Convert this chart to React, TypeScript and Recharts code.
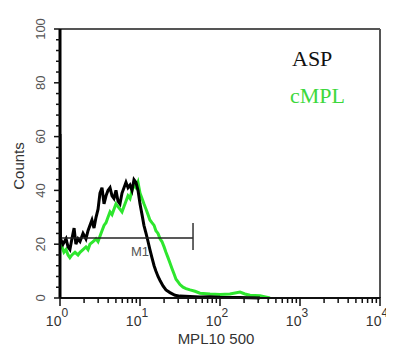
import { LineChart, Line, XAxis, YAxis, ReferenceLine, ReferenceDot } from 'recharts';

// channel values (log scale) and event counts
const aspX = [1, 1.014, 1.09, 1.19, 1.26, 1.33, 1.41, 1.5, 1.58, 1.68, 1.78, 1.94, 2.11, 2.24, 2.37, 2.51, 2.66, 2.82, 2.99, 3.16, 3.35, 3.55, 3.76, 3.98, 4.22, 4.47, 4.73, 5.01, 5.31, 5.62, 5.96, 6.31, 6.68, 7.08, 7.5, 7.94, 8.41, 8.91, 9.44, 10, 10.6, 11.2, 11.9, 12.6, 13.3, 14.1, 15, 15.8, 16.8, 17.8, 19.4, 21.1, 23.7, 27.4, 31.6, 42.2, 56.2, 75, 100, 178, 316];
const aspCounts = [61, 22, 20, 22, 19, 18, 22, 26, 20, 22, 21, 24, 22, 25, 27, 29, 26, 30, 33, 39, 41, 35, 38, 40, 41, 38, 37, 40, 36, 35, 39, 41, 43, 41, 42, 40, 44, 43, 40, 35, 31, 27, 24, 21, 18, 15, 12, 10, 8, 6.5, 4.5, 3, 2, 1, 0.7, 0.6, 0.4, 0.5, 0.3, 0.2, 0];

const cmplX = [1, 1.06, 1.12, 1.19, 1.26, 1.33, 1.41, 1.54, 1.68, 1.78, 1.94, 2.11, 2.24, 2.37, 2.59, 2.82, 2.99, 3.16, 3.35, 3.55, 3.76, 3.98, 4.22, 4.47, 4.73, 5.01, 5.31, 5.62, 5.96, 6.31, 6.68, 7.08, 7.5, 7.94, 8.41, 8.91, 9.44, 10, 10.6, 11.2, 11.9, 12.6, 13.3, 14.1, 15, 15.8, 16.8, 17.8, 18.8, 20, 21.1, 22.4, 23.7, 25.1, 26.6, 28.2, 29.9, 31.6, 34.5, 37.6, 42.2, 48.7, 56.2, 75, 100, 133, 178, 205, 237, 316, 422];
const cmplCounts = [21, 19, 17, 18, 16, 15, 16, 17, 16, 17, 18, 19, 18, 20, 21, 22, 21, 23, 25, 27, 28, 30, 32, 31, 33, 35, 34, 33, 32, 34, 36, 38, 37, 40, 42, 41, 43, 39, 37, 35, 33, 31, 29, 28, 27, 25, 24, 22, 21, 19, 17, 15, 13, 11, 9, 7, 6, 5, 4, 3.5, 3, 2.5, 1.8, 1.5, 1.3, 1.5, 2.2, 1.5, 1, 0.8, 0];

const xTicks = [1, 2, 3, 4, 5, 6, 7, 8, 9, 10, 20, 30, 40, 50, 60, 70, 80, 90, 100, 200, 300, 400, 500, 600, 700, 800, 900, 1000, 2000, 3000, 4000, 5000, 6000, 7000, 8000, 9000, 10000];
const xMajor = [1, 10, 100, 1000, 10000];
const xExponents = ['0', '1', '2', '3', '4'];
const yTicks = [0, 4, 8, 12, 16, 20, 24, 28, 32, 36, 40, 44, 48, 52, 56, 60, 64, 68, 72, 76, 80, 84, 88, 92, 96, 100];
const yMajor = [0, 20, 40, 60, 80, 100];

// M1 gate marker
const m1Start = 1;
const m1End = 46;
const m1Level = 22.3;
const m1CapLow = 17.8;
const m1CapHigh = 27.9;
const m1LabelX = 10;

const aspData = aspX.map((x, i) => ({ x, count: aspCounts[i] }));
const cmplData = cmplX.map((x, i) => ({ x, count: cmplCounts[i] }));

const sans = '"Liberation Sans", Arial, sans-serif';
const serif = '"Liberation Serif", "Times New Roman", serif';

function XTick({ x, y, payload }: any) {
   const idx = xMajor.indexOf(payload.value);
   const major = idx >= 0;
   return (
      <g>
         <line x1={x} x2={x} y1={y - 1} y2={y + (major ? 8 : 5)} stroke="#111" strokeWidth={1.5} />
         {major && (
            <text x={x - 3} y={y + 28} textAnchor="middle" fontFamily={sans} fontSize={14} fill="#333">
               10<tspan dy={-9} fontSize={12}>{xExponents[idx]}</tspan>
            </text>
         )}
      </g>
   );
}

function YTick({ x, y, payload }: any) {
   const major = yMajor.includes(payload.value);
   return (
      <g>
         <line x1={x - (major ? 6 : 4)} x2={x} y1={y} y2={y} stroke="#111" strokeWidth={1.5} />
         {major && (
            <text
               transform={`translate(${x - 20},${y}) rotate(-90)`}
               textAnchor="middle"
               dy="0.35em"
               fontFamily={sans}
               fontSize={13}
               fill="#555"
            >
               {payload.value}
            </text>
         )}
      </g>
   );
}

export default function App() {
   return (
      <div style={{ position: 'relative', width: 380, height: 338 }}>
         <LineChart width={380} height={330} margin={{ top: 21, right: 8, bottom: 0, left: 0 }}>
            <XAxis
               type="number"
               dataKey="x"
               scale="log"
               domain={[1, 10000]}
               ticks={xTicks}
               interval={0}
               allowDataOverflow
               height={40}
               tickSize={0}
               tickMargin={0}
               tick={<XTick />}
               axisLine={{ stroke: '#111', strokeWidth: 2 }}
            />
            <YAxis
               type="number"
               domain={[0, 100]}
               ticks={yTicks}
               interval={0}
               width={52}
               tickSize={0}
               tickMargin={0}
               tick={<YTick />}
               axisLine={{ stroke: '#000', strokeWidth: 3 }}
            />
            <ReferenceLine y={100} stroke="#555" strokeWidth={2} />
            <ReferenceLine x={10000} stroke="#555" strokeWidth={2} />
            <Line data={cmplData} dataKey="count" stroke="#2ee62e" strokeWidth={3} dot={false} isAnimationActive={false} />
            <Line data={aspData} dataKey="count" stroke="#000" strokeWidth={3} dot={false} isAnimationActive={false} />
            <ReferenceLine segment={[{ x: m1Start, y: m1Level }, { x: m1End, y: m1Level }]} stroke="#222" strokeWidth={1.5} />
            <ReferenceLine segment={[{ x: m1End, y: m1CapLow }, { x: m1End, y: m1CapHigh }]} stroke="#333" strokeWidth={1.5} />
            <ReferenceDot
               x={m1LabelX}
               y={m1Level}
               r={0}
               stroke="none"
               fill="none"
               label={{ value: 'M1', position: 'bottom', offset: 9, fill: '#555', fontSize: 13, fontFamily: sans }}
            />
         </LineChart>
         <svg width={380} height={338} style={{ position: 'absolute', left: 0, top: 0, pointerEvents: 'none', overflow: 'visible' }}>
            <text x={284} y={58} fontFamily={serif} fontSize={22} fill="#111">ASP</text>
            <text x={282} y={95} fontFamily={serif} fontSize={22} fill="#3cd83c">cMPL</text>
            <text transform="translate(11,158) rotate(-90)" textAnchor="middle" dy="0.35em" fontFamily={sans} fontSize={15} fill="#333">
               Counts
            </text>
            <text x={208} y={336} textAnchor="middle" fontFamily={sans} fontSize={15} fill="#333">
               MPL10 500
            </text>
         </svg>
      </div>
   );
}
